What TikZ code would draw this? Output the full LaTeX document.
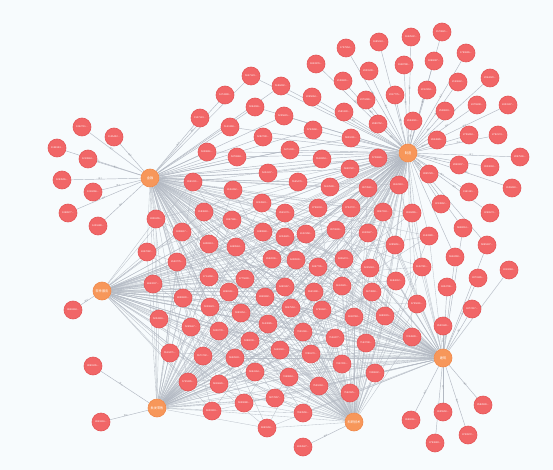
\documentclass[tikz,border=0pt]{standalone}
\usepackage{fontspec}
\setmainfont{Liberation Sans}
\newfontfamily\cjk{Noto Sans CJK SC}
\pgfdeclarelayer{back}
\pgfdeclarelayer{bg}
\pgfsetlayers{back,bg,main}
\definecolor{bgc}{HTML}{F7FBFD}
\definecolor{redf}{HTML}{F16667}
\definecolor{redd}{HTML}{E45657}
\definecolor{orf}{HTML}{F7975A}
\definecolor{ord}{HTML}{F0884A}
\definecolor{edgec}{HTML}{B3B9C3}
\definecolor{labc}{HTML}{9AA0A8}
\tikzset{
  rn/.style={circle, fill=redf, draw=redd, line width=0.6pt, minimum size=18pt, inner sep=0pt, text=white, font=\fontsize{2.5}{3}\selectfont},
  hub/.style={circle, fill=orf, draw=ord, line width=0.6pt, minimum size=18pt, inner sep=0pt, text=white, font=\cjk\fontsize{3.2}{3.6}\selectfont},
  edge/.style={draw=edgec, line width=0.45pt},
  coreedge/.style={draw=edgec, line width=0.35pt, draw opacity=0.85},
  elab/.style={font=\cjk\fontsize{2}{2.4}\selectfont, text=labc, sloped, pos=0.58, inner sep=0.3pt}
}
\begin{document}
\begin{tikzpicture}[x=1pt,y=-1pt]
\begin{pgfonlayer}{back}
\fill[bgc] (0,0) rectangle (553,470);
\end{pgfonlayer}
\useasboundingbox (0,0) rectangle (553,470);

\node[hub] (h1) at (150,178) {金融};
\node[hub] (h2) at (408,153) {制造};
\node[hub] (h3) at (102,291) {软件服务};
\node[hub] (h4) at (157,408) {批发零售};
\node[hub] (h5) at (354,422) {科研技术};
\node[hub] (h6) at (443,358) {建筑};

% outer nodes linked to one hub (labelled edges)
\foreach \x/\y/\h [count=\i] in {
  82/127/1, 114/137/1, 57/148/1, 88/159/1, 62/180/1, 93/192/1, 68/213/1, 98/226/1,
  225/95/1, 200/118/1,
  442/32/2, 411/37/2, 379/42/2, 346/48/2, 466/53/2, 316/64/2, 434/61/2, 404/65/2,
  369/71/2, 490/78/2, 343/81/2, 458/82/2, 427/90/2, 312/97/2, 395/95/2, 366/100/2,
  508/105/2, 477/105/2, 445/111/2, 344/112/2, 413/121/2, 378/124/2,
  469/135/2, 498/135/2, 437/140/2, 520/157/2, 459/165/2, 490/167/2,
  429/174/2, 512/188/2, 469/192/2, 441/204/2, 490/213/2,
  509/270/6, 478/278/6, 447/287/6, 472/309/6, 443/326/6,
  483/405/6, 443/412/6, 411/420/6, 468/435/6, 435/443/6,
  73/310/3, 93/366/4, 101/422/4, 303/447/5} {
  \node[rn] (o\i) at (\x,\y) {\the\numexpr 1000000+\i*52711\relax...};
  \begin{pgfonlayer}{bg}
    \draw[edge] (h\h) -- node[elab]{属于} (o\i);
  \end{pgfonlayer}
}

% nodes linked to two hubs
\foreach \x/\y/\hh [count=\i] in {
  251/76/{1,2}, 255/107/{1,2}, 230/127/{1,2}, 281/86/{1,2},
  284/116/{1,2}, 263/137/{1,2}, 207/152/{1,2}, 237/157/{1,2}, 268/173/{1,2},
  290/150/{1,2}, 322/159/{1,2}, 298/182/{1,2}, 330/187/{1,2}, 350/169/{1,2}, 378/158/{1,2},
  313/130/{1,2}, 351/138/{1,2},
  463/228/{2,6}, 487/245/{2,6}, 455/257/{2,6}} {
  \node[rn] (m\i) at (\x,\y) {\the\numexpr 5000000+\i*47123\relax...};
  \begin{pgfonlayer}{bg}
    \foreach \h in \hh {\draw[edge] (h\h) -- (m\i);}
  \end{pgfonlayer}
}

% core nodes linked to every hub
\foreach \x/\y [count=\i] in {
  193/182, 233/190, 204/212, 262/203, 156/219, 232/220, 182/232, 263/232, 285/213,
  399/185, 368/188, 351/208, 318/208, 383/212, 412/213, 336/230, 368/233, 306/234,
  429/236, 285/237, 395/245,
  147/252, 209/244, 236/247, 177/262, 272/259, 153/284, 209/277, 245/279, 183/298,
  229/292, 265/297, 210/307, 241/313, 268/324, 159/319, 191/327, 219/331, 250/341,
  280/350, 170/353, 203/356, 235/358, 255/372, 188/382, 219/384, 275/398, 244/403,
  212/411, 267/428,
  422/267, 396/281, 370/268, 344/259, 318/267, 296/260, 285/287, 314/292, 342/286,
  372/292, 417/304, 322/310, 291/308, 354/317, 385/316, 303/332, 335/338, 366/343,
  412/337, 311/354, 342/364, 375/373, 289/377, 319/386, 350/393, 303/413} {
  \node[rn] (c\i) at (\x,\y) {\the\numexpr 3000000+\i*61231\relax...};
  \begin{pgfonlayer}{bg}
    \foreach \h in {1,...,6} {\draw[coreedge] (h\h) -- (c\i);}
  \end{pgfonlayer}
}
\end{tikzpicture}
\end{document}
